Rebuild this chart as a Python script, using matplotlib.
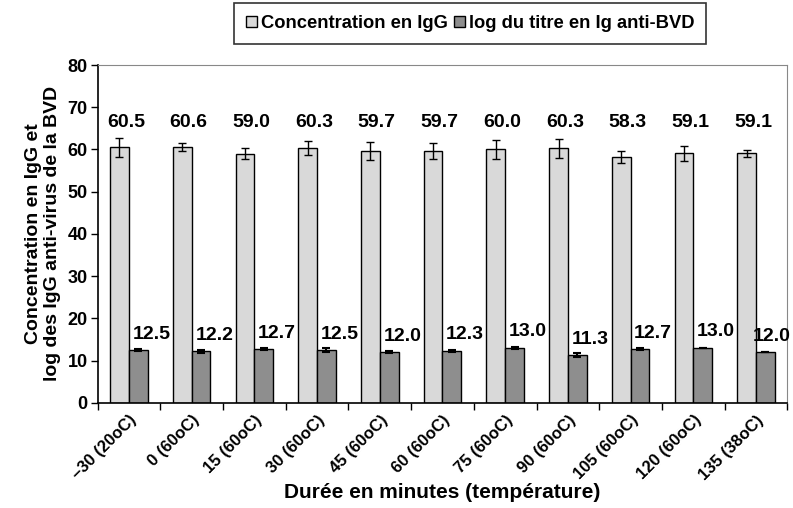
import matplotlib
matplotlib.use("Agg")
import matplotlib.pyplot as plt
import matplotlib.patches as mpatches
import numpy as np

plt.rcParams["font.family"] = ["Liberation Sans", "DejaVu Sans"]
plt.rcParams["font.weight"] = "bold"

# Data
categories = ["\u201330 (20oC)", "0 (60oC)", "15 (60oC)", "30 (60oC)", "45 (60oC)",
              "60 (60oC)", "75 (60oC)", "90 (60oC)", "105 (60oC)", "120 (60oC)",
              "135 (38oC)"]
igg_conc = [60.5, 60.6, 59.0, 60.3, 59.7, 59.7, 60.0, 60.3, 58.3, 59.1, 59.1]
igg_err = [2.2, 1.0, 1.3, 1.7, 2.1, 1.9, 2.3, 2.2, 1.4, 1.8, 0.8]
log_titre = [12.5, 12.2, 12.7, 12.5, 12.0, 12.3, 13.0, 11.3, 12.7, 13.0, 12.0]
log_err = [0.3, 0.3, 0.3, 0.4, 0.3, 0.3, 0.3, 0.4, 0.3, 0.0, 0.0]

LIGHT = "#d9d9d9"
DARK = "#8e8e8e"

fig = plt.figure(figsize=(7.93, 5.08), dpi=100)
ax = fig.add_axes([0.123, 0.207, 0.870, 0.665])

x = np.arange(len(categories))
w = 0.30

ax.bar(x - w / 2, igg_conc, w, color=LIGHT, edgecolor="black", linewidth=1.0,
       yerr=igg_err, error_kw=dict(ecolor="black", elinewidth=1.0, capsize=3, capthick=1.0))
ax.bar(x + w / 2, log_titre, w, color=DARK, edgecolor="black", linewidth=1.0,
       yerr=log_err, error_kw=dict(ecolor="black", elinewidth=1.5, capsize=3, capthick=1.5))

# value labels
for xi, v in zip(x, igg_conc):
    ax.text(xi - 0.05, 66.3, f"{v:.1f}", ha="center", va="center", fontsize=14,
            fontweight="bold")
for xi, v in zip(x, log_titre):
    if xi == x[-1]:
        # last label pushed against the right edge, as in the original
        ax.text(xi + 0.55, v + 3.8, f"{v:.1f}", ha="right", va="center", fontsize=14,
                fontweight="bold", clip_on=False)
    else:
        ax.text(xi + 0.36, v + 3.8, f"{v:.1f}", ha="center", va="center", fontsize=14,
                fontweight="bold", clip_on=False)

ax.set_xlim(-0.5, len(categories) - 0.5)
ax.set_ylim(0, 80)
ax.set_yticks(range(0, 81, 10))
ax.tick_params(axis="y", direction="out", length=5, width=1, labelsize=13, pad=2)

ax.set_xticks(x)
ax.set_xticklabels(categories, rotation=45, ha="right", rotation_mode="anchor",
                   fontsize=12, fontweight="bold")
ax.tick_params(axis="x", which="major", length=0, pad=7)
ax.set_xticks(np.arange(-0.5, len(categories), 1.0), minor=True)
ax.tick_params(axis="x", which="minor", direction="out", length=5, width=1)

for side in ["top", "right"]:
    ax.spines[side].set_color("#888888")
for side in ["left", "bottom"]:
    ax.spines[side].set_color("black")
    ax.spines[side].set_linewidth(1.2)

ax.set_ylabel("Concentration en IgG et\nlog des IgG anti-virus de la BVD",
              fontsize=14, fontweight="bold", labelpad=5, linespacing=1.15)
ax.set_xlabel("Durée en minutes (température)", fontsize=15, fontweight="bold",
              labelpad=0)

handles = [
    mpatches.Patch(facecolor=LIGHT, edgecolor="black", label="Concentration en IgG"),
    mpatches.Patch(facecolor=DARK, edgecolor="black", label="log du titre en Ig anti-BVD"),
]
leg = fig.legend(handles=handles, loc="center", bbox_to_anchor=(0.593, 0.954), ncol=2,
                 frameon=True, fancybox=False, handlelength=0.6,
                 handleheight=0.6, handletextpad=0.2, columnspacing=0.35,
                 borderpad=0.65, borderaxespad=0,
                 prop=dict(weight="bold", size=13.2))
leg.get_frame().set_edgecolor("black")
leg.get_frame().set_linewidth(1.2)

fig.savefig("out.png", dpi=100)
